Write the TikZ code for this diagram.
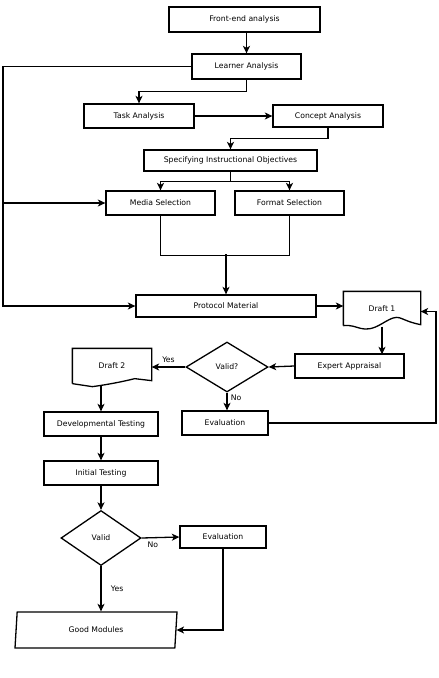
\documentclass[tikz,border=0pt]{standalone}
\usepackage{fontspec}
\setmainfont{DejaVu Sans}
\usetikzlibrary{arrows.meta,shapes.geometric,positioning}

\begin{document}
\begin{tikzpicture}[
    x = 1pt, y = -1pt, % one unit is one pixel, y runs downwards
    > = {Stealth[length=7.5pt,width=7pt,inset=2pt]}, % arrow head style
    line width = 1.3pt, % line style
    font = \fontsize{7.7}{9}\selectfont
    ]

    \tikzset{box/.style={
    draw = black,
    fill = white,
    inner sep = 0pt,
    minimum height = 24pt
    }}
    \tikzset{test/.style={
    draw = black,
    diamond,
    inner sep = 0pt,
    aspect = 1.6
    }}
    \tikzset{doc/.style={
    inner sep = 0pt
    }}

    \useasboundingbox (0,0) rectangle (439,678);

    \node[box, minimum width=151pt, minimum height=25pt] (fea) at (244.5,19.5) {Front-end analysis};
    \node[box, minimum width=109pt, minimum height=25pt] (la) at (246.5,66.5) {Learner Analysis};
    \node[box, minimum width=110pt] (ta) at (139,116) {Task Analysis};
    \node[box, minimum width=110pt, minimum height=22pt] (ca) at (328,116) {Concept Analysis};
    \node[box, minimum width=173pt, minimum height=21pt] (sio) at (230.5,160.5) {Specifying Instructional Objectives};
    \node[box, minimum width=109pt] (ms) at (160.5,203) {Media Selection};
    \node[box, minimum width=109pt] (fs) at (289.5,203) {Format Selection};
    \node[box, minimum width=180pt, minimum height=22pt] (pm) at (226,306) {Protocol Material};
    \node[doc, minimum width=76pt, minimum height=33pt] (d1) at (382,308.5) {Draft 1};
    \node[box, minimum width=109pt] (ea) at (349.5,366) {Expert Appraisal};
    \node[test, minimum width=82pt, minimum height=50pt] (v1) at (227,367) {Valid?};
    \node[doc, minimum width=78pt, minimum height=34pt] (d2) at (112,366) {Draft 2};
    \node[box, minimum width=114pt] (dt) at (101,424) {Developmental Testing};
    \node[box, minimum width=86pt] (ev1) at (225,423) {Evaluation};
    \node[box, minimum width=114pt] (it) at (101,473) {Initial Testing};
    \node[test, minimum width=80pt, minimum height=55pt] (v2) at (101,538) {Valid};
    \node[box, minimum width=86pt, minimum height=22pt] (ev2) at (223,537) {Evaluation};
    \node[draw, trapezium, trapezium left angle=70, trapezium right angle=110,
          trapezium stretches body, inner sep=0pt,
          minimum width=162pt, minimum height=36pt] (gm) at (96,630) {Good Modules};

    % document outlines with a wavy lower edge
    \draw (d1.south west) -- (d1.north west) -- (d1.north east) -- ([yshift=1pt]d1.south east)
          .. controls +(-25,-5) and +(20,-12) .. ([yshift=2pt]d1.south) .. controls +(-20,12) and +(15,-2) .. (d1.south west);
    \draw (d2.south west) -- (d2.north west) -- (d2.north east) -- ([yshift=3pt]d2.south east)
          -- ([xshift=-17pt,yshift=5pt]d2.south east) .. controls +(-12,3) and +(15,-2) .. ([xshift=20pt,yshift=-3pt]d2.south west)
          -- (d2.south west);

    \coordinate (lft) at (3,0);
    \coordinate (rt) at (436,0);

    \draw[->] (la.north |- fea.south) -- (la.north);
    \draw[->] (la.south) -- ++(0,12) -| (ta.north);
    \path[->] (ta) edge (ca);
    \draw[->] (ca.south) -- ++(0,11) -| (sio.north);
    \draw (sio.south) -- ++(0,10) coordinate (sp);
    \draw[->] (sp) -| (ms.north);
    \draw[->] (sp) -| (fs.north);
    \draw (ms.south) -- ++(0,40) -| (fs.south);
    \draw[<-] (pm.north) -- ++(0,-40);
    \draw[->] (la.west) -- (la.west -| lft) |- (pm.west);
    \draw[->] (ms.west -| lft) -- (ms.west);
    \draw[->] (pm.east) -- (pm.east -| d1.west);
    \draw[->] ([yshift=-1pt]d1.south) -- ([yshift=-1pt]d1.south |- ea.north);
    \path[->] (ea.west) edge (v1.east);
    \draw[->] (v1.west) -- (v1.west -| d2.east) node[midway, above] {Yes};
    \draw[->] (v1.south) -- (v1.south |- ev1.north) node[pos=0.3, right] {No};
    \draw[->] (ev1.east) -- (ev1.east -| rt) |- ([yshift=-3pt]d1.east);
    \draw[->] (dt.north |- d2.south) ++(0,2) -- (dt.north);
    \path[->] (dt) edge (it);
    \path[->] (it) edge (v2);
    \draw[->] (v2.east) -- (ev2.west) node[pos=0.3, below] {No};
    \draw[->] (v2.south) -- (v2.south |- gm.north) node[midway, right=6pt] {Yes};
    \draw[->] (ev2.south) |- (gm.east);
\end{tikzpicture}
\end{document}
